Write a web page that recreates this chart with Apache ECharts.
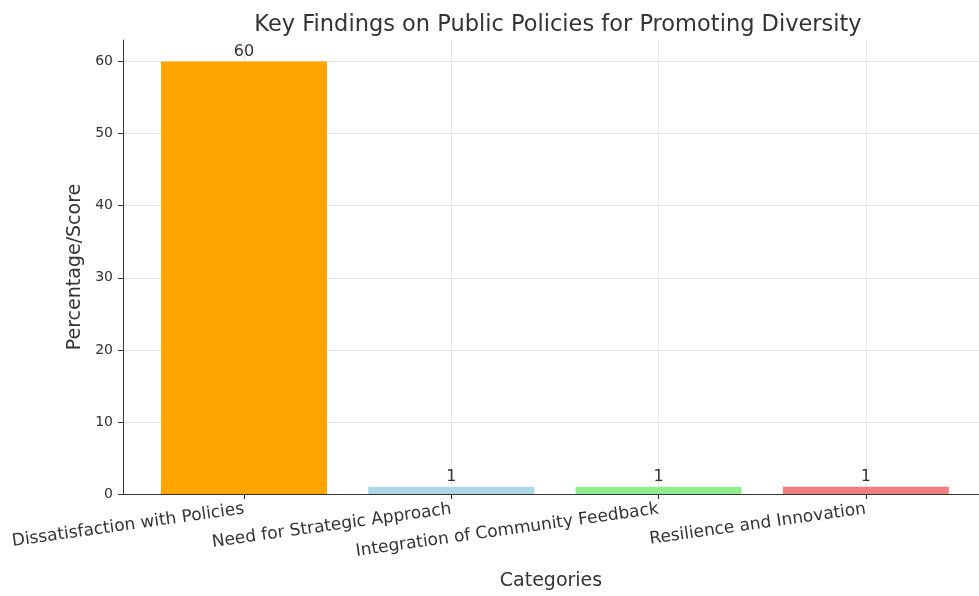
<!DOCTYPE html>
<html>
<head>
<meta charset="utf-8">
<script src="https://cdn.jsdelivr.net/npm/echarts@6/dist/echarts.min.js"></script>
<style>
html,body{margin:0;padding:0;background:#fff;}
#chart{width:979px;height:596px;}
</style>
</head>
<body>
<div id="chart"></div>
<script>
const categories = ["Dissatisfaction with Policies", "Need for Strategic Approach", "Integration of Community Feedback", "Resilience and Innovation"];
const values = [60, 1, 1, 1];
const barColors = ["#FFA500", "#ADD8E6", "#90EE90", "#F08080"];
const yTicks = [0, 10, 20, 30, 40, 50, 60];

const font = "DejaVu Sans";
const positions = categories.map((c, i) => i);

const chart = echarts.init(document.getElementById('chart'), null, {renderer: 'canvas'});
chart.setOption({
  animation: false,
  backgroundColor: '#fff',
  title: {
    text: 'Key Findings on Public Policies for Promoting Diversity',
    left: 553, top: 9, textAlign: 'center',
    textStyle: {fontFamily: font, fontSize: 22.5, fontWeight: 'normal', color: '#333'}
  },
  grid: {left: 123, right: 0, top: 40, bottom: 102, containLabel: false, outerBoundsMode: 'none'},
  xAxis: {
    type: 'value', min: -0.584, max: 3.546,
    name: 'Categories', nameLocation: 'middle', nameGap: 78,
    nameTextStyle: {fontFamily: font, fontSize: 19, color: '#333'},
    axisLine: {show: true, onZero: false, lineStyle: {color: '#333', width: 1}},
    axisTick: {show: true, length: 5, lineStyle: {color: '#333'}, customValues: positions},
    axisLabel: {
      customValues: positions, rotate: 8, margin: 15,
      fontFamily: font, fontSize: 17, color: '#333',
      formatter: v => categories[Math.round(v)] || ''
    },
    splitLine: {show: true, lineStyle: {color: '#e6e6e6', width: 1}}
  },
  yAxis: {
    type: 'value', min: 0, max: 63, interval: 10,
    name: 'Percentage/Score', nameLocation: 'middle', nameGap: 26,
    nameTextStyle: {fontFamily: font, fontSize: 19, color: '#333'},
    axisLine: {show: true, onZero: false, lineStyle: {color: '#333', width: 1}},
    axisTick: {show: true, length: 5, lineStyle: {color: '#333'}},
    axisLabel: {
      margin: 10, fontFamily: font, fontSize: 14, color: '#333', showMaxLabel: false,
      formatter: v => (yTicks.indexOf(v) >= 0 ? String(v) : '')
    },
    splitLine: {show: true, showMaxLine: false, lineStyle: {color: '#e6e6e6', width: 1}}
  },
  series: [{
    type: 'bar',
    barWidth: 166,
    data: values.map((v, i) => ({value: [positions[i], v], itemStyle: {color: barColors[i]}})),
    label: {
      show: true, position: 'top', distance: 2,
      fontFamily: font, fontSize: 16, color: '#333',
      formatter: p => String(p.value[1])
    }
  }]
});
</script>
</body>
</html>
